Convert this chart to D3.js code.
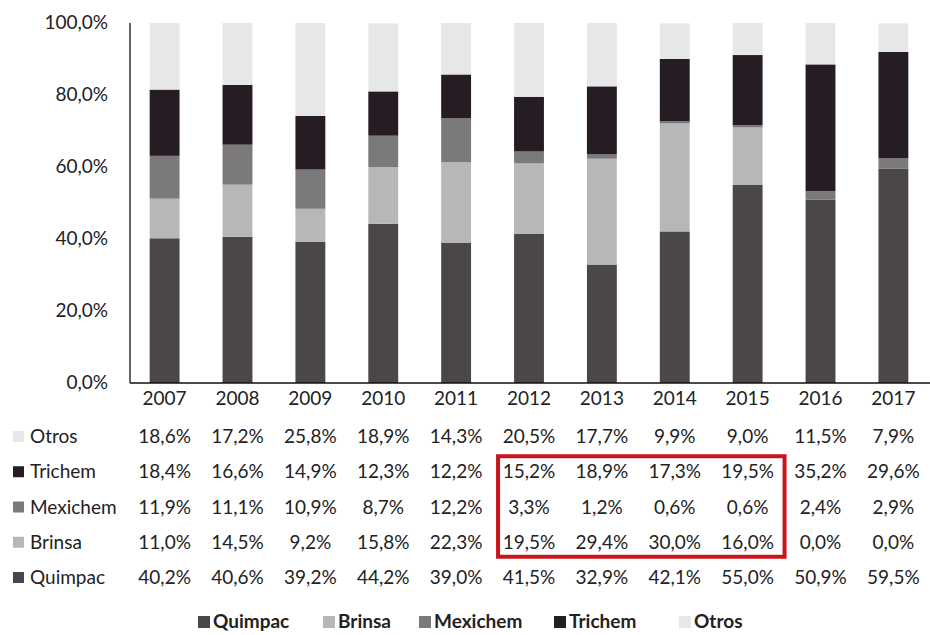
<!DOCTYPE html>
<html>
<head>
<meta charset="utf-8">
<script src="https://cdn.jsdelivr.net/npm/d3@7"></script>
<style>
  body { margin: 0; background: #fff; }
  svg { font-family: Lato, "Open Sans", sans-serif; }
</style>
</head>
<body>
<svg id="chart" width="930" height="635"></svg>
<script>
// Data
const years = ["2007", "2008", "2009", "2010", "2011", "2012", "2013", "2014", "2015", "2016", "2017"];
const quimpac = [40.2, 40.6, 39.2, 44.2, 39.0, 41.5, 32.9, 42.1, 55.0, 50.9, 59.5];
const brinsa = [11.0, 14.5, 9.2, 15.8, 22.3, 19.5, 29.4, 30.0, 16.0, 0.0, 0.0];
const mexichem = [11.9, 11.1, 10.9, 8.7, 12.2, 3.3, 1.2, 0.6, 0.6, 2.4, 2.9];
const trichem = [18.4, 16.6, 14.9, 12.3, 12.2, 15.2, 18.9, 17.3, 19.5, 35.2, 29.6];
const otros = [18.6, 17.2, 25.8, 18.9, 14.3, 20.5, 17.7, 9.9, 9.0, 11.5, 7.9];
const yTicks = [0, 20, 40, 60, 80, 100];

// stack order bottom -> top
const series = [
  { name: "Quimpac", values: quimpac, color: "#4b464a" },
  { name: "Brinsa", values: brinsa, color: "#b8b7b8" },
  { name: "Mexichem", values: mexichem, color: "#7b797a" },
  { name: "Trichem", values: trichem, color: "#261d24" },
  { name: "Otros", values: otros, color: "#e8e7e8" }
];

const fmt = (v) => v.toFixed(1).replace(".", ",") + "%";
const fontSize = 19;

const svg = d3.select("#chart");

const x = d3.scaleBand()
  .domain(years)
  .range([130, 928])
  .paddingInner(0.59)
  .paddingOuter(0.27);

const y = d3.scaleLinear().domain([0, 100]).range([383, 23]);

// stacked rows
const rows = years.map((yr, i) => {
  const o = { year: yr };
  series.forEach((s) => (o[s.name] = s.values[i]));
  return o;
});
const stacked = d3.stack().keys(series.map((s) => s.name))(rows);

svg.append("g")
  .selectAll("g")
  .data(stacked)
  .join("g")
  .attr("fill", (d, i) => series[i].color)
  .selectAll("rect")
  .data((d) => d)
  .join("rect")
  .attr("x", (d) => x(d.data.year))
  .attr("y", (d) => y(Math.min(d[1], 100)))
  .attr("width", x.bandwidth())
  .attr("height", (d) => Math.max(0, y(d[0]) - y(Math.min(d[1], 100))));

// axes lines
svg.append("line")
  .attr("x1", 130).attr("x2", 130)
  .attr("y1", y(100)).attr("y2", y(0))
  .attr("stroke", "#111").attr("stroke-width", 1.3);
svg.append("line")
  .attr("x1", 130).attr("x2", 930)
  .attr("y1", y(0)).attr("y2", y(0))
  .attr("stroke", "#111").attr("stroke-width", 1.5);

// y tick labels
svg.append("g")
  .selectAll("text")
  .data(yTicks)
  .join("text")
  .attr("x", 108)
  .attr("y", (d) => y(d) + 6)
  .attr("text-anchor", "end")
  .attr("font-size", fontSize)
  .attr("fill", "#222")
  .text((d) => fmt(d));

// x labels
svg.append("g")
  .selectAll("text")
  .data(years)
  .join("text")
  .attr("x", (d) => x(d) + x.bandwidth() / 2)
  .attr("y", 405)
  .attr("text-anchor", "middle")
  .attr("font-size", fontSize)
  .attr("fill", "#222")
  .text((d) => d);

// data table (top row = Otros)
const tableRows = series.slice().reverse();
const rowY = d3.scalePoint()
  .domain(tableRows.map((s) => s.name))
  .range([443, 584]);

const tbl = svg.append("g");
tableRows.forEach((s) => {
  const ty = rowY(s.name);
  tbl.append("rect")
    .attr("x", 13).attr("y", ty - 12)
    .attr("width", 11).attr("height", 11)
    .attr("fill", s.color);
  tbl.append("text")
    .attr("x", 30).attr("y", ty)
    .attr("font-size", fontSize)
    .attr("fill", "#222")
    .text(s.name);
  tbl.append("g")
    .selectAll("text")
    .data(s.values)
    .join("text")
    .attr("x", (d, i) => x(years[i]) + x.bandwidth() / 2)
    .attr("y", ty)
    .attr("text-anchor", "middle")
    .attr("font-size", fontSize)
    .attr("fill", "#222")
    .text((d) => fmt(d));
});

// red highlight box over 2012-2015, Trichem..Brinsa
const boxLeft = x("2012") - 16;
const boxRight = x("2015") + x.bandwidth() + 22;
svg.append("rect")
  .attr("x", boxLeft)
  .attr("y", rowY("Trichem") - 22)
  .attr("width", boxRight - boxLeft)
  .attr("height", rowY("Brinsa") - rowY("Trichem") + 30)
  .attr("fill", "none")
  .attr("stroke", "#c9141c")
  .attr("stroke-width", 4);

// bottom legend
const legendX = [198, 323, 419, 554, 679];
const legend = svg.append("g");
series.forEach((s, i) => {
  const g = legend.append("g").attr("transform", `translate(${legendX[i]},628)`);
  g.append("rect")
    .attr("x", 0).attr("y", -12)
    .attr("width", 12).attr("height", 12)
    .attr("fill", s.color);
  g.append("text")
    .attr("x", 15).attr("y", 0)
    .attr("font-size", fontSize)
    .attr("font-weight", "bold")
    .attr("fill", "#222")
    .text(s.name);
});
</script>
</body>
</html>
